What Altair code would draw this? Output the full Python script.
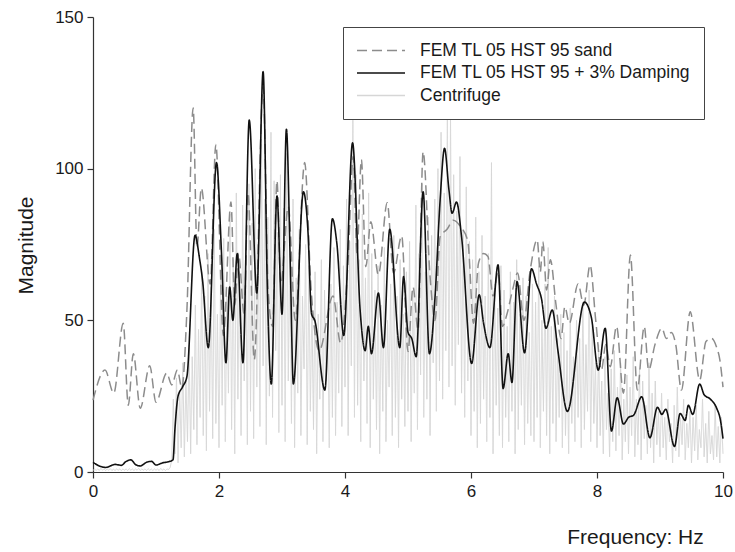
import altair as alt
import pandas as pd

names = ["FEM TL 05 HST 95 sand", "FEM TL 05 HST 95 + 3% Damping", "Centrifuge"]

sand_freq = [0.00, 0.19, 0.33, 0.48, 0.56, 0.64, 0.75, 0.90, 1.00, 1.17, 1.25, 1.34, 1.41, 1.49,
             1.59, 1.65, 1.72, 1.86, 1.95, 2.07, 2.19, 2.25, 2.31, 2.40, 2.46, 2.56, 2.70, 2.78,
             2.85, 2.92, 2.98, 3.10, 3.21, 3.36, 3.46, 3.59, 3.81, 3.93, 4.05, 4.13, 4.19, 4.26,
             4.33, 4.41, 4.53, 4.67, 4.77, 4.90, 5.00, 5.08, 5.16, 5.24, 5.35, 5.43, 5.51, 5.62,
             5.72, 5.83, 5.95, 6.04, 6.12, 6.20, 6.27, 6.35, 6.43, 6.50, 6.57, 6.66, 6.74, 6.84,
             6.94, 7.05, 7.10, 7.14, 7.20, 7.26, 7.35, 7.43, 7.49, 7.56, 7.70, 7.79, 7.89, 7.98,
             8.07, 8.14, 8.21, 8.31, 8.42, 8.53, 8.64, 8.75, 8.82, 8.92, 9.03, 9.10, 9.18, 9.25,
             9.34, 9.48, 9.63, 9.73, 9.82, 9.90, 9.95, 10.0]
sand_mag = [23.7, 33.6, 26, 49, 22, 39, 21, 35, 23, 32.6, 28.7, 33.6, 27.7, 53,
            120, 74, 93.6, 62, 108, 45, 89, 55, 72, 52, 92, 37, 127, 60,
            48, 96, 62, 87.5, 50, 102, 61, 40, 58, 42.5, 70, 104, 72, 103,
            67.7, 82.5, 65, 88.8, 65.6, 77.8, 39.7, 61, 46.8, 105.6, 64.4, 50, 77.6, 80,
            83, 81, 76, 49, 69, 72, 71, 58, 66, 48, 52, 60, 65.6, 50,
            66.6, 76.5, 66, 76, 60, 70, 55, 44, 54.5, 49, 62, 55, 68.2, 50,
            33.6, 42, 34.7, 48, 26, 71.5, 27, 48, 33.6, 42, 47.4, 44, 46, 42,
            27, 52.8, 30.3, 43, 44, 41, 37, 28]

damp_freq = [0.00, 0.10, 0.20, 0.35, 0.45, 0.52, 0.60, 0.68, 0.75, 0.85, 0.93, 1.00, 1.10, 1.20,
             1.27, 1.30, 1.35, 1.42, 1.49, 1.62, 1.69, 1.74, 1.83, 1.96, 2.04, 2.11, 2.17, 2.22,
             2.29, 2.38, 2.48, 2.60, 2.70, 2.77, 2.83, 2.92, 3.00, 3.07, 3.13, 3.18, 3.34, 3.41,
             3.47, 3.52, 3.68, 3.80, 3.87, 3.98, 4.12, 4.24, 4.32, 4.37, 4.42, 4.53, 4.61, 4.71,
             4.87, 4.93, 5.00, 5.06, 5.13, 5.24, 5.34, 5.43, 5.51, 5.58, 5.65, 5.70, 5.77, 5.85,
             6.01, 6.13, 6.20, 6.30, 6.43, 6.51, 6.59, 6.65, 6.73, 6.85, 6.96, 7.04, 7.12, 7.19,
             7.29, 7.38, 7.53, 7.80, 7.91, 8.02, 8.13, 8.23, 8.32, 8.42, 8.50, 8.58, 8.71, 8.84,
             8.96, 9.03, 9.09, 9.23, 9.32, 9.40, 9.45, 9.52, 9.63, 9.70, 9.80, 9.90, 9.96, 10.0]
damp_mag = [3.2, 2.0, 1.5, 2.5, 2.2, 3.4, 4.0, 2.4, 2.0, 3.2, 3.5, 2.3, 3.0, 3.4,
            4.0, 14, 25, 28, 31.4, 78, 70.5, 63, 41, 102, 72, 36, 61, 50,
            72, 36, 116, 59, 132, 57.8, 29, 91, 52, 113, 70, 29, 92.4, 80,
            52, 50, 27, 83.5, 75.5, 45, 108.5, 53.4, 40, 48, 39, 59, 41, 80,
            41, 64.4, 46, 44, 38, 92.4, 39, 58, 89.7, 106.7, 93, 85.3, 89, 77.6,
            35.8, 58.4, 49, 41, 68.3, 27.5, 39, 29.5, 62.8, 39.3, 67, 62, 57, 47.4,
            53.4, 40, 20, 56, 51, 33.6, 47.4, 13.5, 24.5, 15.8, 18, 18.7, 24.8, 11.3,
            21.3, 19, 20.7, 8.4, 19.3, 17, 22, 19, 29, 25.5, 24, 21, 17, 11]

# Centrifuge spectrum, sampled every 0.025 Hz from 0 to 10 Hz
cent_mag = [
    0.5, 1, 0.5, 1, 0.5, 1.2, 0.6, 1, 0.5, 1, 0.6, 1.1, 0.5, 0.9, 0.5, 1, 0.6, 1, 0.5, 1,
    0.6, 1, 0.5, 1.1, 0.6, 1, 0.5, 1, 0.6, 1.2, 0.5, 1, 0.6, 1, 0.5, 1.1, 0.6, 1, 0.5, 1,
    0.6, 1, 0.5, 1.2, 0.6, 1, 0.5, 1, 0.8, 1.5, 4, 24, 6, 31, 3, 27, 8, 36, 5, 30,
    10, 42, 6, 38, 14, 55, 9, 47, 18, 66, 12, 58, 7, 72, 20, 61, 11, 80, 16, 52,
    8, 64, 22, 77, 10, 58, 26, 85, 14, 70, 6, 92, 24, 66, 12, 88, 30, 74, 9, 95,
    20, 82, 11, 100, 28, 76, 15, 108, 35, 90, 9, 84, 25, 112, 18, 96, 40, 79, 13, 98,
    22, 87, 10, 105, 30, 72, 16, 90, 8, 64, 26, 80, 12, 58, 34, 75, 9, 68, 20, 55,
    14, 66, 6, 52, 24, 70, 10, 60, 30, 48, 8, 62, 18, 74, 12, 56, 26, 80, 15, 68,
    28, 90, 12, 76, 35, 116, 18, 98, 22, 70, 10, 85, 30, 64, 16, 92, 8, 72, 24, 60,
    14, 68, 6, 55, 20, 74, 10, 50, 28, 62, 12, 78, 18, 58, 8, 70, 24, 52, 15, 66,
    20, 76, 10, 60, 26, 88, 14, 72, 32, 95, 18, 66, 24, 84, 12, 78, 36, 90, 20, 100,
    30, 112, 24, 92, 40, 119, 28, 117, 35, 98, 22, 86, 42, 104, 26, 80, 18, 94, 30, 76,
    12, 70, 20, 84, 8, 66, 16, 78, 24, 58, 10, 72, 18, 102, 6, 62, 22, 54, 12, 68,
    8, 60, 18, 48, 10, 66, 20, 56, 6, 70, 14, 52, 22, 64, 9, 58, 16, 46, 12, 62,
    10, 56, 18, 68, 8, 50, 20, 62, 12, 74, 6, 48, 16, 58, 10, 44, 18, 52, 8, 46,
    12, 40, 6, 54, 16, 38, 10, 50, 18, 44, 8, 56, 14, 42, 20, 60, 10, 48, 16, 36,
    8, 42, 12, 30, 6, 38, 14, 26, 5, 34, 10, 40, 7, 28, 12, 36, 4, 24, 10, 32,
    6, 28, 12, 38, 5, 24, 9, 34, 4, 30, 11, 22, 6, 36, 8, 26, 3, 30, 9, 20,
    5, 26, 8, 18, 4, 24, 10, 16, 3, 22, 7, 28, 5, 18, 9, 24, 4, 16, 8, 20,
    3, 18, 7, 22, 4, 14, 8, 24, 5, 16, 3, 20, 6, 12, 4, 22, 5, 15, 3, 18,
    6,
]
cent_freq = [round(i * 0.025, 3) for i in range(len(cent_mag))]

df = pd.concat([
    pd.DataFrame({"f": cent_freq, "m": cent_mag, "series": names[2]}),
    pd.DataFrame({"f": sand_freq, "m": sand_mag, "series": names[0]}),
    pd.DataFrame({"f": damp_freq, "m": damp_mag, "series": names[1]}),
], ignore_index=True)

FONT = "Liberation Sans"

legend = alt.Legend(
    title=None, orient="none", legendX=250, legendY=10,
    symbolType="stroke", symbolSize=2304, symbolStrokeWidth=1.6,
    clipHeight=21, rowPadding=1.5, padding=13,
    strokeColor="#444444", fillColor="white",
    labelFont=FONT, labelFontSize=17.5, labelColor="#1a1a1a",
    labelOffset=14, labelLimit=500,
)

color = alt.Color("series:N", scale=alt.Scale(domain=names, range=["#8c8c8c", "#111111", "#d6d6d6"]),
                  legend=legend)
dash = alt.StrokeDash("series:N", scale=alt.Scale(domain=names, range=[[10, 5], [1, 0], [1, 0]]),
                      legend=legend)

x = alt.X("f:Q", scale=alt.Scale(domain=[0, 10], nice=False, zero=False),
          axis=alt.Axis(values=[0, 2, 4, 6, 8, 10], title="Frequency: Hz", grid=False,
                        labelFlush=False, titleX=542, titleY=65, titleAlign="center",
                        titleBaseline="middle", labelPadding=5))
y = alt.Y("m:Q", scale=alt.Scale(domain=[0, 150], nice=False),
          axis=alt.Axis(values=[0, 50, 100, 150], title="Magnitude", grid=False,
                        titleX=-67, titleY=228, titleAngle=-90, titleAlign="center",
                        titleBaseline="middle", labelPadding=4))

base = alt.Chart(df)

cent = base.transform_filter(alt.datum.series == names[2]).mark_line(
    strokeWidth=1, interpolate="linear").encode(x=x, y=y, color=color, strokeDash=dash)
sand = base.transform_filter(alt.datum.series == names[0]).mark_line(
    strokeWidth=1.5, interpolate="monotone").encode(x=x, y=y, color=color, strokeDash=dash)
damp = base.transform_filter(alt.datum.series == names[1]).mark_line(
    strokeWidth=1.6, interpolate="monotone").encode(x=x, y=y, color=color, strokeDash=dash)

chart = alt.layer(cent, sand, damp).properties(
    width=630, height=455,
    padding={"left": 93, "top": 17, "right": 12, "bottom": 80},
    autosize=alt.AutoSizeParams(type="none"),
    background="white",
).configure_view(stroke=None).configure_axis(
    domainColor="#333333", tickColor="#333333", tickSize=6, domainWidth=1.2, tickWidth=1.2,
    labelFont=FONT, labelFontSize=17, labelColor="#1a1a1a",
    titleFont=FONT, titleFontSize=21, titleFontWeight="normal", titleColor="#1a1a1a",
)

chart.save("out.html", embed_options={"renderer": "svg", "actions": False})
